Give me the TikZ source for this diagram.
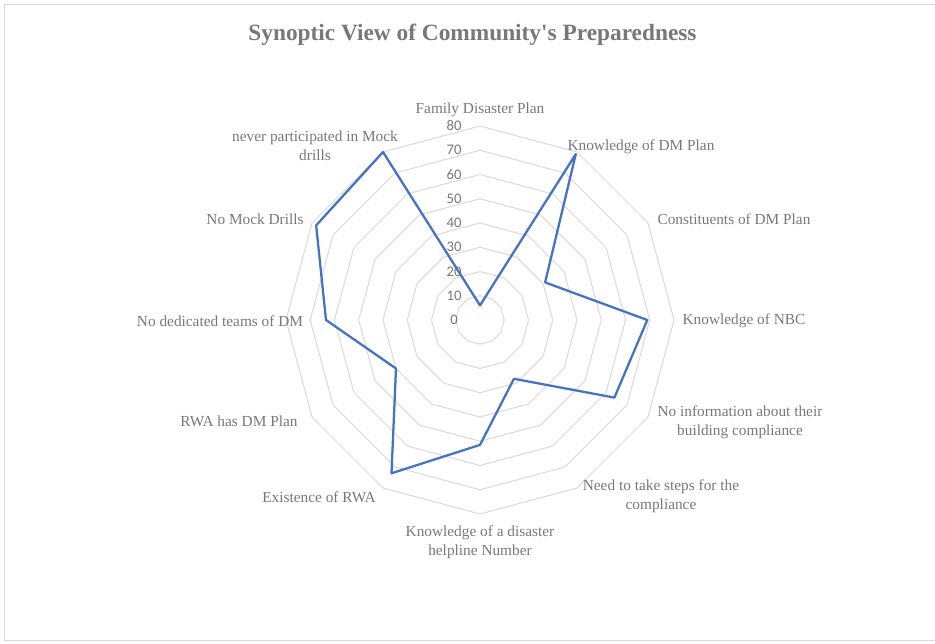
\documentclass[tikz,border=0pt]{standalone}
\usepackage{fontspec}
\setmainfont{Liberation Serif}
\newfontfamily\tickfont{Carlito}
\usepackage{tikz}
\definecolor{gridgray}{RGB}{217,217,217}
\definecolor{textgray}{RGB}{120,120,120}
\definecolor{lineblue}{RGB}{68,114,196}
\tikzset{basic/.style={text=textgray,inner sep=0pt,align=center}}
\tikzset{category/.style={basic,font=\fontsize{11.5}{14}\selectfont}}

\begin{document}
\begin{tikzpicture}[x=0.75pt,y=0.75pt]
  % one unit is one pixel of the chart, the origin is the centre of the web
  \tikzstyle{grid_line}=[draw=gridgray,line width=0.75pt]
  \tikzstyle{tick_label}=[basic,font=\tickfont\fontsize{11}{13}\selectfont]
  \tikzstyle{data_line}=[draw=lineblue,line width=1.7pt,line join=round]
  \useasboundingbox (-480,-323) rectangle (455,320);

  % chart frame
  \draw[grid_line] (455,315) -- (-475,315) -- (-475,-320) -- (455,-320);

  \node[basic,font=\fontsize{17.5}{20}\bfseries] (title) at (-7.5,285)
    {Synoptic View of Community\textquotesingle s Preparedness};

  % the web: rings every 10
  \foreach \v in {1,...,8}
    \draw[grid_line] (90:{24.25*\v})
      \foreach \k in {1,...,11} { -- ({90-30*\k}:{24.25*\v}) } -- cycle;

  % value axis
  \foreach \v [evaluate=\v as \t using int(10*\v)] in {0,...,8}
    \node[tick_label] (tick_\v) at (-26,{24.25*\v}) {\t};

  % category labels
  \node[category] (l_0)  at (0,210)      {Family Disaster Plan};
  \node[category] (l_1)  at (161,173)    {Knowledge of DM Plan};
  \node[category] (l_2)  at (254,101)    {Constituents of DM Plan};
  \node[category] (l_3)  at (264,-1)     {Knowledge of NBC};
  \node[category] (l_4)  at (260,-102)   {No information about their\\building compliance};
  \node[category] (l_5)  at (181,-176)   {Need to take steps for the\\compliance};
  \node[category] (l_6)  at (0,-222)     {Knowledge of a disaster\\helpline Number};
  \node[category] (l_7)  at (-161,-177)  {Existence of RWA};
  \node[category] (l_8)  at (-241,-101)  {RWA has DM Plan};
  \node[category] (l_9)  at (-260,-1)    {No dedicated teams of DM};
  \node[category] (l_10) at (-225,101)   {No Mock Drills};
  \node[category] (l_11) at (-165,174)   {never participated in Mock\\drills};

  % data points (value x 2.425)
  \coordinate (p_0)  at (90:14.6);
  \coordinate (p_1)  at (60:191.6);
  \coordinate (p_2)  at (30:75.2);
  \coordinate (p_3)  at (0:167.3);
  \coordinate (p_4)  at (-30:155.2);
  \coordinate (p_5)  at (-60:67.9);
  \coordinate (p_6)  at (-90:124.9);
  \coordinate (p_7)  at (-120:177);
  \coordinate (p_8)  at (-150:97);
  \coordinate (p_9)  at (180:154);
  \coordinate (p_10) at (150:189.2);
  \coordinate (p_11) at (120:194);

  \draw[data_line] (p_0) -- (p_1) -- (p_2) -- (p_3) -- (p_4) -- (p_5)
    -- (p_6) -- (p_7) -- (p_8) -- (p_9) -- (p_10) -- (p_11) -- cycle;
\end{tikzpicture}
\end{document}
